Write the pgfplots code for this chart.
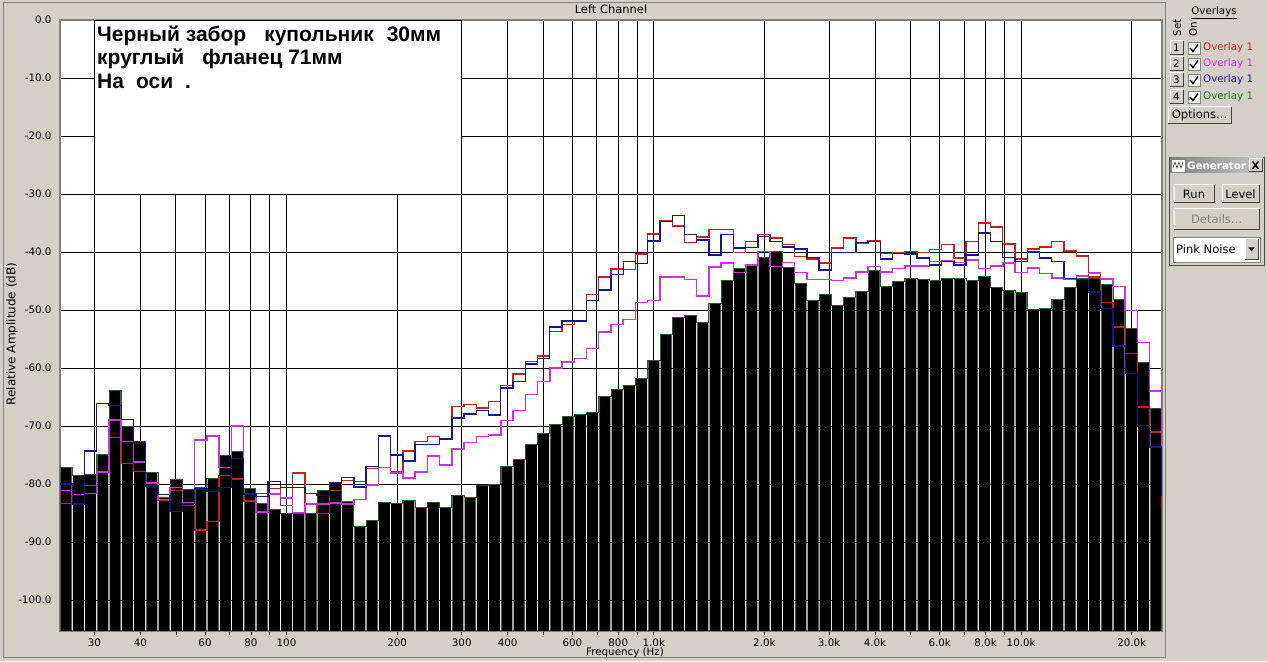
\documentclass[border=0pt]{standalone}
\usepackage{fontspec}
\setmainfont{Liberation Sans}
\newfontfamily\uifam{DejaVu Sans}
\usepackage{pgfplots}
\usepackage{pgfplotstable}
\pgfplotsset{compat=1.18}

\definecolor{winbg}{RGB}{212,208,200}
\definecolor{winshadow}{RGB}{128,128,128}
\definecolor{ovred}{RGB}{200,30,30}
\definecolor{ovmag}{RGB}{205,50,215}
\definecolor{ovblue}{RGB}{20,20,140}
\definecolor{ovgreen}{RGB}{30,120,30}
\definecolor{baredge}{RGB}{40,90,40}

\newcommand{\ui}{\uifam\fontsize{10.3}{12}\selectfont}
\newcommand{\uib}{\uifam\fontsize{11.5}{13}\selectfont}
\newcommand{\boxfont}{\fontsize{21}{24}\selectfont\bfseries}
% raised windows button: x1 y1 x2 y2 (y1 bottom)
\newcommand{\winbutton}[4]{%
  \fill[winbg] (#1,#2) rectangle (#3,#4);
  \draw[white, line width=1pt] (#1,#2) -- (#1,#4) -- (#3,#4);
  \draw[black!75, line width=1pt] (#1,#2) -- (#3,#2) -- (#3,#4);
}

% 1/30 decade bands, n = 30*log10(f); dB values
\pgfplotstableread{
n   bar    red    mag    blue
42  -77.1  -83.3  -81.1  -80.0
43  -78.5  -81.8  -81.8  -83.4
44  -78.3  -80.2  -81.6  -74.3
45  -74.9  -77.8  -77.9  -66.1
46  -63.9  -72.0  -68.9  -66.4
47  -70.1  -76.4  -72.6  -68.9
48  -72.6  -77.8  -76.2  -73.0
49  -78.0  -79.7  -79.8  -80.3
50  -82.2  -82.8  -82.6  -81.8
51  -79.1  -81.1  -80.6  -84.7
52  -80.9  -83.7  -83.2  -83.3
53  -80.5  -87.9  -72.4  -80.8
54  -79.0  -86.4  -71.7  -81.3
55  -75.0  -78.5  -77.1  -80.6
56  -74.3  -79.1  -70.0  -75.6
57  -80.7  -82.9  -81.7  -81.7
58  -83.4  -81.6  -84.8  -82.1
59  -84.3  -80.7  -81.7  -79.5
60  -85.0  -83.7  -82.4  -80.6
61  -85.1  -78.1  -84.9  -80.6
62  -85.0  -83.4  -83.4  -81.6
63  -81.1  -85.1  -83.4  -82.0
64  -79.7  -81.1  -83.2  -79.8
65  -83.0  -79.4  -83.4  -78.8
66  -87.2  -79.5  -82.6  -80.5
67  -86.3  -77.3  -80.1  -76.9
68  -83.1  -71.7  -77.1  -71.7
69  -83.3  -77.9  -78.1  -75.0
70  -82.8  -74.3  -78.9  -76.0
71  -84.0  -72.6  -77.9  -73.2
72  -83.1  -71.8  -75.1  -73.2
73  -84.0  -72.2  -76.7  -72.2
74  -82.0  -66.6  -73.9  -68.6
75  -82.3  -66.3  -72.8  -67.9
76  -80.3  -66.9  -71.8  -67.3
77  -80.1  -65.7  -71.5  -68.1
78  -76.9  -63.0  -69.0  -63.4
79  -75.8  -61.0  -67.3  -62.3
80  -73.2  -58.9  -64.5  -59.3
81  -71.2  -57.9  -62.3  -58.3
82  -69.7  -53.7  -60.0  -52.9
83  -68.4  -52.5  -58.9  -51.9
84  -68.0  -51.9  -58.3  -51.9
85  -67.6  -47.3  -56.6  -48.3
86  -64.9  -44.3  -53.8  -46.5
87  -63.7  -42.9  -52.5  -43.9
88  -63.0  -43.0  -51.6  -41.6
89  -61.7  -40.3  -48.7  -42.0
90  -58.6  -36.9  -48.3  -38.1
91  -54.2  -34.6  -44.3  -34.7
92  -51.3  -35.5  -44.3  -33.7
93  -51.0  -38.3  -44.7  -37.0
94  -52.2  -37.4  -47.6  -37.9
95  -48.9  -36.1  -42.6  -40.5
96  -44.9  -36.1  -41.9  -37.0
97  -42.9  -40.1  -43.5  -39.3
98  -42.1  -38.2  -42.2  -39.2
99  -41.0  -37.0  -39.9  -37.3
100 -39.9  -37.6  -42.5  -38.2
101 -42.6  -38.7  -41.8  -39.1
102 -45.4  -40.8  -43.5  -39.5
103 -48.3  -41.2  -44.7  -40.9
104 -47.3  -41.9  -44.7  -43.1
105 -49.2  -39.3  -44.9  -40.1
106 -47.8  -37.6  -44.5  -40.1
107 -46.8  -38.4  -43.4  -38.3
108 -43.2  -38.0  -42.5  -38.2
109 -46.0  -40.2  -43.4  -41.2
110 -45.0  -40.1  -42.8  -40.2
111 -44.5  -39.9  -42.4  -40.3
112 -44.7  -40.1  -42.4  -41.0
113 -44.9  -39.6  -41.6  -42.2
114 -44.5  -38.7  -41.5  -41.6
115 -44.6  -41.0  -41.8  -42.2
116 -44.9  -38.2  -41.4  -40.5
117 -44.2  -35.0  -42.8  -36.7
118 -46.1  -35.7  -42.4  -38.2
119 -46.6  -38.6  -41.9  -40.9
120 -46.9  -41.2  -43.5  -41.6
121 -49.9  -39.5  -42.7  -40.0
122 -49.7  -39.1  -43.7  -41.0
123 -48.1  -38.2  -44.5  -41.6
124 -46.1  -39.8  -44.6  -44.6
125 -44.6  -40.7  -44.1  -44.7
126 -44.5  -44.3  -43.6  -46.9
127 -45.5  -48.7  -44.6  -49.7
128 -48.2  -52.9  -45.9  -56.2
129 -53.2  -57.5  -50.1  -60.9
130 -59.1  -66.7  -55.6  -69.9
131 -66.9  -71.0  -63.9  -73.6
132 -120.0 -84.0  -79.0  -82.0
}\spec

\def\yoff{105.3}

\begin{document}
\begin{tikzpicture}
\begin{scope}[x=1pt,y=1pt]
\useasboundingbox (0,0) rectangle (1267,661);
\fill[winbg] (0,0) rectangle (1267,661);
\draw[winshadow, line width=1pt] (3,3) rectangle (1165,658);
\end{scope}

\begin{axis}[
  at={(60pt,30pt)}, anchor=south west,
  scale only axis, width=1102pt, height=611pt,
  xmin=41.5, xmax=131.5, ymin=0, ymax=105.3,
  axis background/.style={fill=white},
  axis line style={draw=winshadow, line width=1.2pt},
  grid=major, grid style={black, line width=0.9pt},
  tick align=outside, major tick length=4pt,
  xtick pos=left, ytick pos=left,
  ytick style={draw=none}, xtick style={black, line width=0.8pt},
  xtick={44.314,48.062,50.969,53.345,55.353,57.093,58.627,60,
         69.031,74.314,78.062,80.969,83.345,85.353,87.093,88.627,90,
         99.031,104.314,108.062,110.969,113.345,115.353,117.093,118.627,120,129.031},
  xticklabels={30,40,{},60,{},80,{},100,200,300,400,{},600,{},800,{},1.0k,
               2.0k,3.0k,4.0k,{},6.0k,{},8.0k,{},10.0k,20.0k},
  ytick={5.3,15.3,25.3,35.3,45.3,55.3,65.3,75.3,85.3,95.3,105.3},
  yticklabels={-100.0,-90.0,-80.0,-70.0,-60.0,-50.0,-40.0,-30.0,-20.0,-10.0,0.0},
  ticklabel style={font=\ui},
  yticklabel style={xshift=-1pt},
]
% bars (Overlay 4) and their green silhouette
\addplot[ybar, bar shift=0pt, bar width=0.9, fill=black, draw=none]
  table[x=n, y expr=\thisrow{bar}+\yoff] {\spec};
\addplot[const plot, baredge, line width=0.9pt]
  table[x expr=\thisrow{n}-0.5, y expr=\thisrow{bar}+\yoff] {\spec};
\addplot[const plot, ovred, line width=1.4pt]
  table[x expr=\thisrow{n}-0.5, y expr=\thisrow{red}+\yoff] {\spec};
\addplot[const plot, ovmag, line width=1.5pt]
  table[x expr=\thisrow{n}-0.5, y expr=\thisrow{mag}+\yoff] {\spec};
\addplot[const plot, ovblue, line width=1.4pt]
  table[x expr=\thisrow{n}-0.5, y expr=\thisrow{blue}+\yoff] {\spec};
\draw[black, line width=0.9pt, fill=white] (axis cs:44.314,105.3) rectangle (axis cs:74.314,75.3);
\end{axis}

\begin{scope}[x=1pt,y=1pt]
% note box text
\node[anchor=base west, font=\boxfont, inner sep=0pt] at (97,619) {Черный забор\hspace*{18pt}купольник\hspace*{13pt}30мм};
\node[anchor=base west, font=\boxfont, inner sep=0pt] at (97,596) {круглый\hspace*{18pt}фланец 71мм};
\node[anchor=base west, font=\boxfont, inner sep=0pt] at (97,572) {На\hspace*{12pt}оси\hspace*{12pt}.};

% titles
\node[font=\uib] at (611,652) {Left Channel};
\node[font=\ui] at (625,8) {Frequency (Hz)};
\node[font=\uifam\fontsize{12}{14}\selectfont, rotate=90] at (12,327) {Relative Amplitude (dB)};

% overlay panel
\node[font=\ui] at (1214,648) {\underline{Overlays}};
\node[font=\ui, rotate=90] at (1177,633) {Set};
\node[font=\ui, rotate=90] at (1193,632) {On};
\foreach \yy/\num/\col in {613/1/ovred, 597/2/ovmag, 581/3/ovblue, 564/4/ovgreen} {
  \winbutton{1170}{\yy-7}{1183}{\yy+7}
  \node[font=\ui] at (1176.5,\yy) {\num};
  \fill[white] (1188,\yy-6) rectangle (1200,\yy+6);
  \draw[winshadow] (1188,\yy-6) rectangle (1200,\yy+6);
  \draw[black, line width=1.5pt] (1190,\yy) -- (1193,\yy-3.5) -- (1198,\yy+3.5);
  \node[font=\ui, text=\col, anchor=west, inner sep=0pt] at (1203,\yy) {Overlay 1};
}
\winbutton{1168}{537}{1231}{554}
\node[font=\uib] at (1199.5,545.5) {Options...};

% generator panel
\draw[black!70, fill=winbg] (1169,396) rectangle (1264,504);
\shade[left color=winshadow, right color={rgb,255:red,200;green,200;blue,200}] (1170,488) rectangle (1263,503);
\fill[white] (1171,489) rectangle (1185,502);
\draw[winshadow] (1171,489) rectangle (1185,502);
\draw[black!80, line width=0.6pt] (1173,493) -- (1175,499) -- (1177,493) -- (1179,499) -- (1181,493) -- (1183,499);
\node[font=\ui\bfseries, text=white, anchor=west, inner sep=0pt] at (1187,495.5) {Generator};
\winbutton{1249}{489}{1262}{502}
\node[font=\ui\bfseries] at (1255.5,495.5) {X};
\winbutton{1174}{458}{1214}{476}
\node[font=\uib] at (1194,467) {Run};
\winbutton{1222}{458}{1259}{476}
\node[font=\uib] at (1240.5,467) {Level};
\winbutton{1174}{431}{1259}{452}
\node[font=\uib, text=winshadow] at (1216.5,441.5) {Details...};
\fill[white] (1173,399) rectangle (1260,424);
\draw[winshadow] (1173,399) rectangle (1260,424);
\node[font=\uib, anchor=west, inner sep=0pt] at (1176,411.5) {Pink Noise};
\winbutton{1245}{401}{1258}{422}
\fill[black] (1248.5,413.5) -- (1254.5,413.5) -- (1251.5,409.5) -- cycle;
\end{scope}
\end{tikzpicture}
\end{document}
